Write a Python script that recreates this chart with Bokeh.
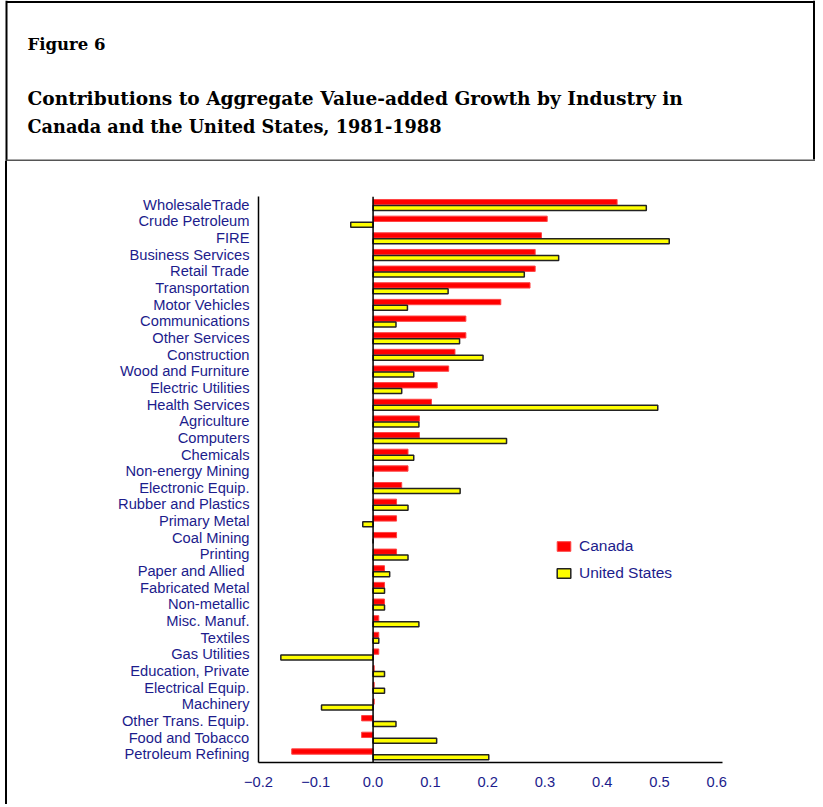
from bokeh.plotting import figure
from bokeh.layouts import column
from bokeh.models import (FactorRange, Range1d, Span, Label, FixedTicker,
                          Legend, LegendItem)
from bokeh.transform import dodge
from bokeh.embed import file_html
from bokeh.resources import INLINE

# ---------------- data ----------------
industries = ["WholesaleTrade", "Crude Petroleum", "FIRE", "Business Services",
              "Retail Trade", "Transportation", "Motor Vehicles", "Communications",
              "Other Services", "Construction", "Wood and Furniture", "Electric Utilities",
              "Health Services", "Agriculture", "Computers", "Chemicals",
              "Non-energy Mining", "Electronic Equip.", "Rubber and Plastics",
              "Primary Metal", "Coal Mining", "Printing", "Paper and Allied ",
              "Fabricated Metal", "Non-metallic", "Misc. Manuf.", "Textiles",
              "Gas Utilities", "Education, Private", "Electrical Equip.", "Machinery",
              "Other Trans. Equip.", "Food and Tobacco", "Petroleum Refining"]
canada = [0.426, 0.304, 0.294, 0.283, 0.283, 0.274, 0.223, 0.162, 0.162, 0.143,
          0.132, 0.112, 0.102, 0.081, 0.081, 0.061, 0.061, 0.050, 0.041, 0.041,
          0.041, 0.041, 0.020, 0.020, 0.020, 0.010, 0.010, 0.010, 0.002, 0.002,
          0.002, -0.020, -0.020, -0.142]
united_states = [0.477, -0.039, 0.517, 0.324, 0.264, 0.131, 0.060, 0.040, 0.151, 0.192,
                 0.071, 0.050, 0.497, 0.080, 0.233, 0.071, 0.0, 0.152, 0.061, -0.018,
                 0.0, 0.061, 0.029, 0.020, 0.020, 0.080, 0.010, -0.161, 0.020, 0.020,
                 -0.090, 0.040, 0.111, 0.202]
x_ticks = [-0.2, -0.1, 0.0, 0.1, 0.2, 0.3, 0.4, 0.5, 0.6]
x_tick_labels = ["\u22120.2", "\u22120.1", "0.0", "0.1", "0.2", "0.3", "0.4", "0.5", "0.6"]
series_names = ["Canada", "United States"]
fig_label = "Figure 6"
title_lines = ["Contributions to Aggregate Value-added Growth by Industry in",
               "Canada and the United States, 1981-1988"]
title_sizes = ["18.6px", "17.7px"]

# ---------------- layout constants (page px) ----------------
W_TOP = 815
H_TOP = 161
W_CHART = 806
H_CHART = 643
CHART_SHIFT = 7           # css margin (5) + left border (2)
F_LEFT, F_RIGHT, F_TOP, F_BOTTOM = 258, 722, 196, 762
NAVY = "#1c1c8c"
SANS = "Liberation Sans"
SERIF = "DejaVu Serif"

# ---------------- heading panel ----------------
t = figure(width=W_TOP, height=H_TOP, output_backend="svg", toolbar_location=None,
           x_range=Range1d(0, W_TOP), y_range=Range1d(H_TOP, 0),
           x_axis_type=None, y_axis_type=None, min_border=0)
t.min_border_left = t.min_border_right = t.min_border_top = t.min_border_bottom = 0
t.frame_align = False
t.grid.visible = False
t.outline_line_color = None
t.background_fill_color = "white"
t.border_fill_color = "white"

# page frame lines of the heading box
t.segment(x0=[6, 6, W_TOP - 1.5], y0=[1.5, 0, 0], x1=[W_TOP, 6, W_TOP - 1.5],
          y1=[1.5, H_TOP, 159], line_color="black", line_width=2)
t.segment(x0=[6], y0=[160], x1=[W_TOP], y1=[160], line_color="#555555", line_width=2)

t.add_layout(Label(x=27, y=44, text=fig_label, text_font=SERIF, text_font_style="bold",
                   text_font_size="16.5px", text_color="black", text_baseline="alphabetic"))
for i, line in enumerate(title_lines):
    t.add_layout(Label(x=27, y=98 + 28 * i, text=line, text_font=SERIF,
                       text_font_style="bold", text_font_size=title_sizes[i],
                       text_color="black", text_baseline="alphabetic"))

# ---------------- chart ----------------
p = figure(width=W_CHART, height=H_CHART, output_backend="svg", toolbar_location=None,
           y_range=FactorRange(factors=industries[::-1], range_padding=0),
           x_range=(-0.2, 0.61),
           min_border_left=F_LEFT - CHART_SHIFT,
           min_border_right=CHART_SHIFT + W_CHART - F_RIGHT,
           min_border_top=F_TOP - H_TOP, min_border_bottom=H_TOP + H_CHART - F_BOTTOM,
           styles={"margin-left": "5px", "border-left": "2px solid black"})
p.frame_align = False
p.outline_line_color = None
p.grid.visible = False
p.background_fill_color = "white"
p.border_fill_color = "white"

data = dict(industry=industries, canada=canada, us=united_states)
r_ca = p.hbar(y=dodge("industry", 0.16, range=p.y_range), right="canada", left=0,
              height=0.32, source=data, fill_color="#ff0000", line_color="#ff4444",
              line_width=1)
r_us = p.hbar(y=dodge("industry", -0.19, range=p.y_range), right="us", left=0,
              height=0.30, source=data, fill_color="#ffff00", line_color="#222222",
              line_width=1.5)

p.add_layout(Span(location=0, dimension="height", line_color="black", line_width=1.5))

xa = p.xaxis[0]
xa.ticker = FixedTicker(ticks=x_ticks)
xa.major_label_overrides = {t_: l for t_, l in zip(x_ticks, x_tick_labels)}
xa.major_tick_line_color = None
xa.minor_tick_line_color = None
xa.major_tick_out = 0
xa.major_label_standoff = 14
xa.axis_line_color = "black"
xa.axis_line_width = 1.5
xa.major_label_text_font = SANS
xa.major_label_text_font_size = "14.7px"
xa.major_label_text_color = NAVY

ya = p.yaxis[0]
ya.major_tick_line_color = None
ya.minor_tick_line_color = None
ya.major_tick_out = 0
ya.major_label_standoff = 9
ya.axis_line_color = "black"
ya.axis_line_width = 1.5
ya.major_label_text_font = SANS
ya.major_label_text_font_size = "14.7px"
ya.major_label_text_color = NAVY

legend = Legend(items=[LegendItem(label=series_names[0], renderers=[r_ca]),
                       LegendItem(label=series_names[1], renderers=[r_us])],
                location=(297, 180), orientation="vertical",
                border_line_color=None, background_fill_alpha=0,
                padding=0, margin=0, spacing=9, glyph_width=17, glyph_height=12,
                label_standoff=7, label_text_font=SANS, label_text_font_size="15.5px",
                label_text_color=NAVY, label_height=14)
p.add_layout(legend, "center")

layout = column(t, p, spacing=0)
open("out.html", "w").write(file_html(layout, INLINE))
